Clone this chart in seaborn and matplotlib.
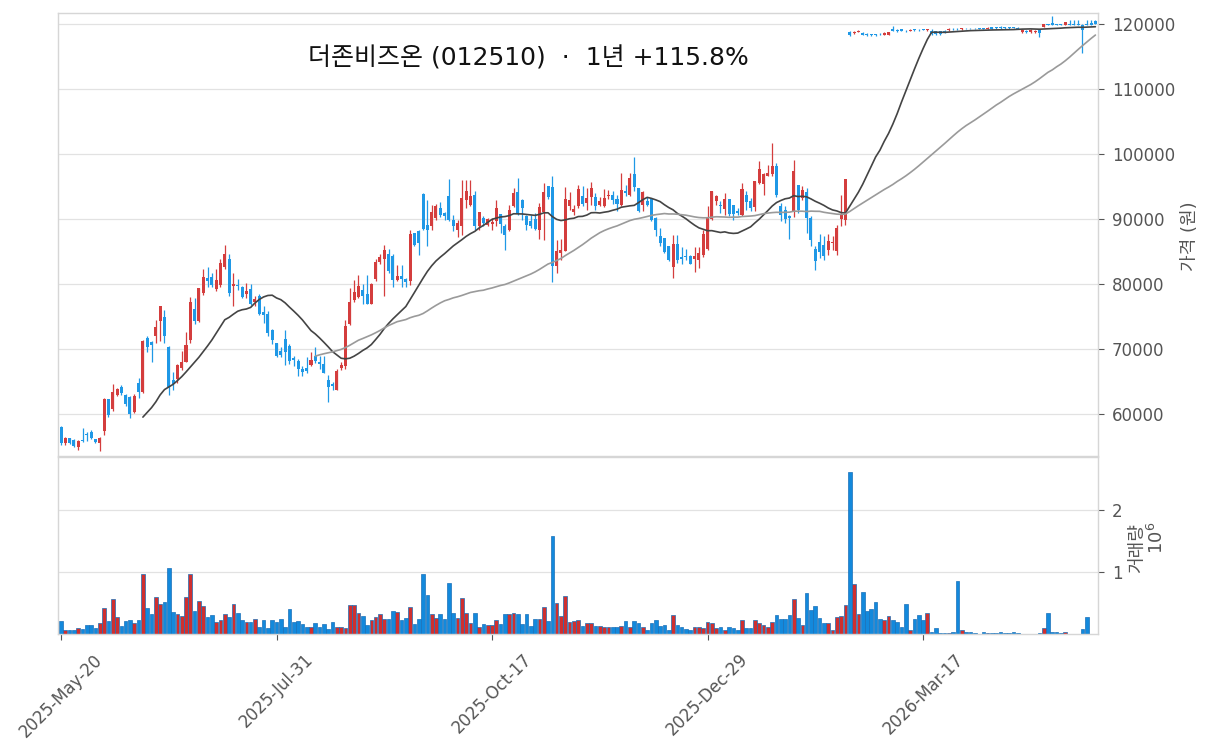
import numpy as np
import pandas as pd
import matplotlib
matplotlib.use('Agg')
import matplotlib.pyplot as plt
import seaborn as sns

# 차트 데이터 (일봉, 2025-05-20 ~ 2026-05)
title = '더존비즈온 (012510)  ·  1년 +115.8%'
tick_pos = [0, 50, 100, 150, 200]
tick_labels = ['2025-May-20', '2025-Jul-31', '2025-Oct-17', '2025-Dec-29', '2026-Mar-17']

opens = [
    58050, 55500, 56250, 56000, 54850, 56000, 56900, 57300, 56150, 55600,
    57400, 62250, 60750, 63000, 64200, 62950, 62650, 60350, 64700, 63400,
    71750, 71100, 72000, 74350, 74900, 70350, 65250, 65350, 67100, 68050,
    71400, 76150, 74350, 78550, 80900, 81150, 79200, 79850, 82650, 83800,
    79650, 79900, 79500, 78450, 79200, 77200, 78200, 75650, 75450, 72950,
    70900, 69650, 71600, 70400, 68600, 68200, 66950, 67050, 67600, 68950,
    67950, 67750, 65300, 64650, 63750, 67100, 67350, 73900, 77600, 78000,
    79100, 78450, 76950, 80800, 83350, 83850, 84600, 84350, 80650, 81300,
    80750, 80400,
    87850, 88100, 93900, 89100, 88850, 90150, 91700, 90900, 93600, 89900,
    88250, 88950, 92850, 92200, 93750, 88950, 90150, 89150, 89250, 89750,
    90800, 88950, 88250, 91950, 94100, 92950, 90400, 89650, 90000, 88250,
    91000, 95000, 94900, 82700, 84750, 85150, 92050, 91000, 91950,
    93600, 92450, 93400, 93400, 92200, 91950, 93500, 93750, 93100, 92100,
    94250, 93750, 96950, 94750, 92200, 92700, 93100, 90100, 87450, 87100,
    85800, 82550, 86200, 84150, 84350, 84350, 83850, 83750, 84500, 85400,
    90000, 92800, 92150, 91550, 93100, 92200, 91200, 90650, 93750,
    92700, 91800, 95550, 95400, 96650, 96900, 98100, 92050, 91450, 90500,
    91200, 95300, 93250, 94100, 90150, 85450, 86450, 86000, 85300, 86300,
    85150, 90050, 89900,
    118750, 118560, 118820, 118670, 118460, 118460, 118410, 118460, 118360, 118360,
    119180, 119080, 119180, 118970, 118970, 119180, 119130, 119180, 119080, 118870,
    118870, 118870, 118970, 119080, 119280, 119280, 119180, 119280, 119280, 119280,
    119330, 119330, 119280, 119490, 119490, 119590, 119490, 119490, 119490, 119440,
    118770, 118920, 118770, 118770, 119080, 119590, 120000, 120100, 120000, 120000,
    119900, 120000, 120000, 120000, 119900, 120000, 120100, 120410,
]
highs = [
    58100, 56500, 56300, 56100, 56050, 57800, 57200, 57550, 56200, 56500,
    62400, 62300, 64550, 64050, 64450, 63100, 62800, 63150, 65600, 71350,
    72000, 71200, 74450, 76650, 76050, 70500, 66500, 67700, 69700, 72650,
    78050, 77900, 79450, 82350, 82600, 81700, 82250, 83800, 86000, 84600,
    81700, 80700, 79700, 80200, 79950, 78100, 78400, 76550, 75800, 73100,
    71000, 70300, 72900, 70700, 68900, 68400, 67450, 68750, 69600, 70300,
    68900, 68900, 66050, 65000, 66900, 68000, 74400, 79400, 80550, 81450,
    79950, 81400, 80100, 83900, 84650, 86050, 85350, 84600, 82850, 82950,
    80900, 88350,
    87900, 88300, 94050, 92950, 92200, 92350, 92600, 91150, 96150, 90650,
    89800, 96050, 96050, 95950, 94250, 91150, 90400, 90150, 90150, 92850,
    90800, 89300, 92200, 94750, 96300, 93050, 90550, 90650, 90900, 92450,
    95550, 95100, 96550, 86800, 86900, 94900, 94200, 92200, 95250,
    95050, 94800, 95650, 94000, 93450, 94600, 94500, 94250, 93750, 97050,
    95250, 97050, 99550, 94750, 94250, 93450, 93250, 90300, 88650, 87150,
    85800, 87600, 87600, 85700, 85450, 84400, 85700, 85700, 88350, 91950,
    94250, 93750, 92700, 94000, 93100, 92200, 91700, 95500, 94250,
    93200, 95800, 98900, 97050, 98350, 101650, 98650, 92450, 91950, 90650,
    99100, 95300, 95050, 94750, 90500, 85800, 87700, 87350, 87700, 87350,
    89150, 93750, 96150,
    118870, 118870, 119080, 118770, 118560, 118500, 118460, 118560, 118770, 118820,
    119690, 119180, 119280, 119080, 119180, 119280, 119180, 119280, 119280, 119180,
    118970, 118970, 119080, 119380, 119380, 119380, 119440, 119330, 119330, 119380,
    119380, 119440, 119490, 119590, 119540, 119640, 119540, 119540, 119540, 119490,
    119180, 119030, 119180, 119080, 119180, 120000, 120050, 121230, 120050, 120050,
    120350, 120620, 120620, 120620, 120050, 120620, 120620, 120620,
]
lows = [
    55250, 55250, 55350, 54950, 54450, 55700, 55900, 56150, 55550, 54300,
    56700, 59600, 60400, 62700, 63000, 61300, 59350, 60100, 62400, 63200,
    69500, 68000, 70850, 71200, 70900, 63000, 63750, 64700, 66800, 67950,
    71000, 73900, 74200, 78300, 79600, 79500, 78900, 79600, 82300, 78100,
    76550, 79150, 77850, 77850, 76700, 76550, 75300, 73950, 71950, 70700,
    68750, 68750, 67600, 67750, 67400, 65900, 65800, 66300, 67350, 67850,
    66950, 66250, 61800, 63700, 63650, 66750, 66850, 73650, 77300, 77850,
    76950, 76850, 76850, 80500, 83150, 78150, 81700, 79600, 80400, 79600,
    79500, 79900,
    85800, 84500, 88350, 85800, 88350, 89900, 90300, 89900, 89650, 88100,
    87200, 87600, 91700, 91950, 88350, 88350, 88850, 88850, 88350, 88850,
    87850, 85300, 88100, 91800, 90650, 89900, 88350, 88600, 88350, 86950,
    86700, 93100, 80250, 81700, 83750, 85000, 91400, 90650, 91700,
    92050, 91350, 92200, 91450, 92000, 91800, 93000, 92250, 91200, 91950,
    93500, 93600, 94300, 91050, 91200, 91950, 89650, 87350, 85800, 84800,
    83500, 80950, 83250, 83100, 83700, 83000, 81850, 82450, 84200, 85250,
    89850, 92200, 90900, 90650, 90400, 89900, 90650, 90400, 91450,
    91300, 91300, 95400, 93750, 96550, 96550, 93450, 89650, 89400, 86900,
    90350, 90900, 92850, 87850, 85800, 82150, 83950, 83700, 84500, 85250,
    84500, 88850, 89100,
    118150, 118460, 118770, 118260, 118200, 118200, 118200, 118360, 118300, 118300,
    118870, 118770, 118870, 118770, 118870, 118970, 118970, 119030, 118970, 118300,
    118360, 118360, 118670, 118970, 119080, 119080, 119080, 119180, 119180, 119180,
    119180, 119230, 119230, 119230, 119280, 119280, 119280, 119280, 119330, 119230,
    118670, 118670, 118670, 118670, 118050, 119540, 119850, 119850, 119850, 119850,
    119850, 119850, 119850, 119850, 115500, 119850, 119850, 119950,
]
closes = [
    55600, 56250, 55600, 55100, 55850, 55800, 56700, 56250, 55650, 56250,
    62300, 59850, 63350, 63800, 63200, 61500, 59950, 62800, 63450, 71250,
    70250, 70600, 73450, 76600, 72050, 64050, 64650, 67550, 67950, 70650,
    77300, 74350, 79350, 81150, 80500, 79850, 80600, 83300, 84600, 78550,
    80050, 79650, 78000, 78950, 76950, 77700, 75450, 75300, 72450, 71450,
    68850, 69100, 69500, 68100, 68250, 66950, 66500, 66550, 68350, 68200,
    67650, 66300, 64100, 64250, 66650, 67600, 73600, 77250, 78750, 79650,
    78100, 76950, 80000, 83400, 84100, 85200, 81950, 80550, 81300, 80750,
    80250, 87750,
    85950, 86300, 88500, 88350, 91050, 92050, 90550, 90400, 89800, 88850,
    89450, 93200, 94350, 93600, 88850, 91000, 89400, 90000, 89500, 91700,
    89300, 87600, 91450, 94000, 90800, 91700, 89000, 88950, 88500, 91850,
    94150, 93400, 82700, 85000, 85250, 93050, 92900, 91600, 94600,
    92350, 93250, 94700, 91950, 92700, 93250, 93750, 92950, 92300, 94500,
    94000, 96300, 94850, 91200, 94150, 92200, 89900, 88350, 86300, 84950,
    83750, 86200, 83750, 83850, 84150, 83100, 84250, 84750, 87750, 90150,
    94250, 93500, 92000, 93100, 90800, 90800, 90900, 94650, 92550,
    91700, 95800, 97700, 96900, 97050, 98100, 93750, 90650, 90000, 90150,
    97450, 91450, 94500, 90150, 86800, 83500, 84850, 84250, 86650, 86500,
    88600, 90650, 96150,
    118350, 118770, 118970, 118360, 118260, 118260, 118260, 118410, 118670, 118770,
    118970, 118870, 118970, 118870, 119080, 119080, 119030, 119080, 119180, 118460,
    118460, 118460, 118770, 119280, 119180, 119180, 119380, 119230, 119230, 119230,
    119230, 119280, 119440, 119280, 119330, 119330, 119330, 119330, 119380, 119280,
    119080, 118770, 119080, 118970, 118560, 119950, 119900, 119900, 119900, 119900,
    120310, 119900, 119900, 119900, 119050, 119900, 119900, 120000,
]
# 거래량 (백만 주)
volumes = [
    0.21, 0.07, 0.06, 0.06, 0.09, 0.08, 0.14, 0.14, 0.09, 0.17,
    0.42, 0.21, 0.57, 0.27, 0.13, 0.21, 0.23, 0.18, 0.23, 0.96,
    0.42, 0.32, 0.60, 0.48, 0.52, 1.07, 0.35, 0.33, 0.29, 0.60,
    0.97, 0.37, 0.53, 0.45, 0.27, 0.30, 0.19, 0.23, 0.33, 0.27,
    0.48, 0.34, 0.22, 0.19, 0.19, 0.24, 0.11, 0.22, 0.09, 0.22,
    0.19, 0.24, 0.11, 0.40, 0.19, 0.21, 0.16, 0.11, 0.12, 0.17,
    0.11, 0.16, 0.08, 0.19, 0.11, 0.11, 0.09, 0.47, 0.47, 0.34,
    0.29, 0.14, 0.22, 0.27, 0.32, 0.24, 0.24, 0.37, 0.35, 0.22,
    0.26, 0.43, 0.16, 0.24, 0.96, 0.63, 0.32, 0.26, 0.32, 0.24,
    0.83, 0.34, 0.26, 0.58, 0.34, 0.17, 0.34, 0.11, 0.16, 0.14,
    0.14, 0.22, 0.16, 0.32, 0.32, 0.34, 0.32, 0.16, 0.32, 0.13,
    0.24, 0.24, 0.43, 0.21, 1.58, 0.50, 0.29, 0.61, 0.19, 0.21,
    0.22, 0.13, 0.17, 0.17, 0.13, 0.13, 0.11, 0.11, 0.11, 0.11,
    0.13, 0.21, 0.11, 0.21,
    0.18, 0.11, 0.07, 0.17, 0.22, 0.13, 0.14, 0.07, 0.30, 0.14,
    0.11, 0.08, 0.06, 0.11, 0.12, 0.09, 0.19, 0.17, 0.09, 0.11,
    0.07, 0.12, 0.09, 0.06, 0.23, 0.09, 0.09, 0.23, 0.17, 0.14,
    0.12, 0.19, 0.30, 0.25, 0.25, 0.30, 0.56, 0.26, 0.14, 0.66,
    0.38, 0.45, 0.26, 0.17, 0.17, 0.07, 0.27, 0.29, 0.47,
    2.62, 0.81, 0.32, 0.68, 0.37, 0.40, 0.52, 0.24, 0.22, 0.29,
    0.22, 0.19, 0.11, 0.48, 0.07, 0.24, 0.30, 0.22, 0.34, 0.04,
    0.09, 0.01, 0.01, 0.01, 0.03, 0.86, 0.06, 0.04, 0.04, 0.01,
    0.00, 0.03, 0.01, 0.01, 0.01, 0.03, 0.01, 0.01, 0.03, 0.01,
    0.00, 0.00, 0.00, 0.00, 0.01, 0.09, 0.34, 0.04, 0.03, 0.01,
    0.03, 0.00, 0.00, 0.00, 0.08, 0.27, 0.00, 0.00,
]

UP = '#d43d3d'
DOWN = '#1f98e6'
VOL_UP = '#cf2f2f'
VOL_DOWN = '#1389dc'
TXT = '#555555'

df = pd.DataFrame({'open': opens, 'high': highs, 'low': lows,
                   'close': closes, 'volume': volumes})
df['idx'] = np.arange(len(df))
df['dir'] = np.where(df['close'] >= df['open'], 'up', 'down')
df['ma20'] = df['close'].rolling(20).mean()
df['ma60'] = df['close'].rolling(60).mean()

sns.set_theme(style='whitegrid')
plt.rcParams['font.family'] = ['DejaVu Sans', 'Noto Sans CJK KR']

W, H = 1214, 752
fig = plt.figure(figsize=(W / 100, H / 100), dpi=100)
ax = fig.add_axes([58 / W, 1 - 456 / H, 1040 / W, 443 / H])
axv = fig.add_axes([58 / W, 1 - 634 / H, 1040 / W, 177 / H], sharex=ax)

# 캔들
colors = df['dir'].map({'up': UP, 'down': DOWN})
body_lo = df[['open', 'close']].min(axis=1)
body_h = (df['open'] - df['close']).abs().clip(lower=70)
ax.vlines(df['idx'], df['low'], df['high'], colors=colors, lw=0.9, zorder=2)
ax.bar(df['idx'], body_h, bottom=body_lo, width=0.7, color=colors, lw=0, zorder=3)

# 이동평균
sns.lineplot(data=df, x='idx', y='ma20', ax=ax, color='#444444', lw=1.2, zorder=4)
sns.lineplot(data=df, x='idx', y='ma60', ax=ax, color='#9a9a9a', lw=1.2, zorder=4)

# 거래량
sns.barplot(data=df, x='idx', y='volume', hue='dir', native_scale=True,
            palette={'up': VOL_UP, 'down': VOL_DOWN}, saturation=1, dodge=False,
            width=0.85, errorbar=None, legend=False, edgecolor='#1a70b8',
            linewidth=0.5, ax=axv)

for a in (ax, axv):
    a.grid(False)
    a.grid(axis='y', color='#e2e2e2', lw=0.9)
    a.set_xlabel('')
    a.set_ylabel('')
    a.yaxis.tick_right()
    for s in a.spines.values():
        s.set_color('#d6d6d6')
        s.set_linewidth(1.0)
    a.tick_params(axis='y', which='major', right=True, left=False, length=4,
                  width=0.8, color=TXT, labelsize=12, labelcolor=TXT, pad=6)

ax.set_xlim(-0.7, 240.6)
ax.set_ylim(53540, 121690)
ax.set_yticks(range(60000, 120001, 10000))
ax.set_yticklabels([str(v) for v in range(60000, 120001, 10000)])
ax.tick_params(axis='x', bottom=False, labelbottom=False)

axv.set_ylim(0, 2.855)
axv.set_yticks([1, 2])
axv.set_yticklabels(['1', '2'])
axv.set_xticks(tick_pos)
axv.set_xticklabels(tick_labels, rotation=45, ha='center')
axv.tick_params(axis='x', bottom=True, length=4, width=0.8, color=TXT,
                labelsize=12, labelcolor=TXT, pad=8)

fig.text(528 / W, 1 - 58 / H, title, ha='center', va='center', fontsize=18, color='#111111')
fig.text(1190 / W, 1 - 236 / H, '가격 (원)', rotation=90, ha='center', va='center',
         fontsize=13, color=TXT)
fig.text(1137 / W, 1 - 548 / H, '거래량', rotation=90, ha='center', va='center',
         fontsize=13, color=TXT)
fig.text(1157 / W, 1 - 538 / H, r'$10^{6}$', rotation=90, ha='center', va='center',
         fontsize=13, color=TXT)

fig.savefig('out.png', dpi=100)
